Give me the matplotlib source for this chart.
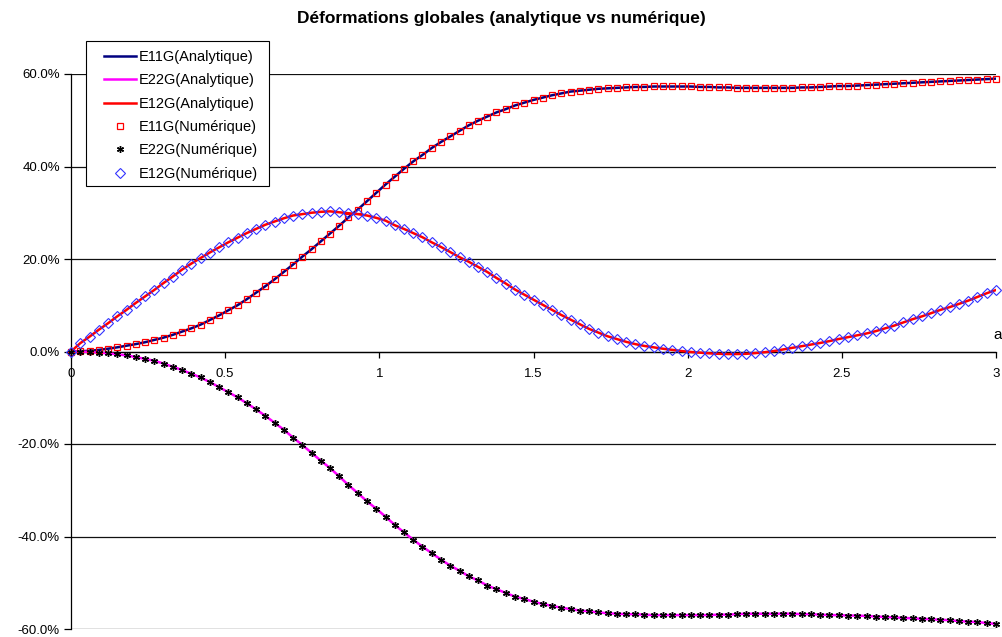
import numpy as np
import matplotlib.pyplot as plt
from matplotlib.patches import Rectangle

plt.rcParams['font.family'] = ['Liberation Sans', 'DejaVu Sans']

# abscissa step between samples (0 -> 3)
a_step = 0.03

# strains in %
e11 = [0.0, 0.05, 0.15, 0.35, 0.6, 0.9, 1.25, 1.6, 2.0, 2.5,
       3.0, 3.6, 4.3, 5.0, 5.8, 6.8, 7.8, 8.9, 10.0, 11.3,
       12.7, 14.1, 15.6, 17.2, 18.8, 20.5, 22.1, 23.8, 25.5, 27.2,
       29.0, 30.7, 32.5, 34.3, 36.1, 37.8, 39.5, 41.1, 42.5, 44.0,
       45.3, 46.5, 47.7, 48.9, 49.9, 50.8, 51.7, 52.4, 53.2, 53.8,
       54.4, 54.9, 55.4, 55.8, 56.2, 56.4, 56.6, 56.8, 56.9, 57.0,
       57.1, 57.2, 57.2, 57.3, 57.3, 57.3, 57.3, 57.3, 57.2, 57.2,
       57.1, 57.1, 57.0, 57.0, 57.0, 57.0, 57.0, 57.0, 57.0, 57.1,
       57.1, 57.2, 57.3, 57.4, 57.4, 57.5, 57.6, 57.7, 57.8, 57.9,
       58.0, 58.1, 58.2, 58.3, 58.4, 58.5, 58.6, 58.7, 58.8, 58.9,
       59.0]

e22 = [0.0, -0.03, -0.1, -0.25, -0.4, -0.6, -0.85, -1.2, -1.6, -2.0,
       -2.6, -3.3, -4.0, -4.8, -5.6, -6.6, -7.7, -8.8, -9.9, -11.2,
       -12.5, -13.9, -15.4, -16.9, -18.6, -20.2, -21.9, -23.6, -25.2, -27.0,
       -28.9, -30.6, -32.4, -34.0, -35.7, -37.5, -39.1, -40.7, -42.2, -43.6,
       -45.0, -46.3, -47.4, -48.6, -49.5, -50.6, -51.4, -52.2, -53.0, -53.5,
       -54.1, -54.6, -55.0, -55.4, -55.7, -56.0, -56.2, -56.4, -56.6, -56.7,
       -56.8, -56.8, -56.9, -57.0, -57.0, -57.0, -57.0, -57.0, -57.0, -57.0,
       -56.9, -56.9, -56.8, -56.7, -56.7, -56.7, -56.7, -56.7, -56.7, -56.8,
       -56.8, -56.9, -57.0, -57.0, -57.1, -57.1, -57.2, -57.3, -57.4, -57.5,
       -57.6, -57.7, -57.8, -57.9, -58.0, -58.1, -58.3, -58.4, -58.5, -58.7,
       -58.9]

e12 = [0.0, 1.8, 3.2, 4.7, 6.1, 7.6, 9.0, 10.5, 11.9, 13.3,
       14.8, 16.2, 17.7, 19.0, 20.2, 21.4, 22.5, 23.6, 24.6, 25.6,
       26.5, 27.4, 28.1, 28.8, 29.4, 29.7, 30.0, 30.2, 30.3, 30.1,
       29.9, 29.7, 29.4, 28.9, 28.3, 27.3, 26.5, 25.6, 24.7, 23.6,
       22.6, 21.5, 20.4, 19.4, 18.3, 17.2, 15.9, 14.7, 13.4, 12.3,
       11.2, 10.1, 9.0, 7.9, 6.9, 5.9, 4.9, 4.1, 3.3, 2.7,
       2.1, 1.6, 1.2, 0.9, 0.6, 0.35, 0.1, -0.1, -0.25, -0.4,
       -0.5, -0.55, -0.55, -0.5, -0.35, -0.15, 0.1, 0.45, 0.8, 1.15,
       1.5, 1.85, 2.25, 2.7, 3.1, 3.5, 3.9, 4.4, 5.0, 5.6,
       6.3, 7.0, 7.6, 8.3, 9.0, 9.6, 10.3, 11.0, 11.8, 12.6,
       13.3]

a_vals = np.arange(len(e11)) * a_step

x_ticks = [0, 0.5, 1, 1.5, 2, 2.5, 3]
x_labels = ['0', '0.5', '1', '1.5', '2', '2.5', '3']
y_ticks = [-60, -40, -20, 0, 20, 40, 60]

W, H = 1002, 637
fig = plt.figure(figsize=(W / 100, H / 100), dpi=100)
ax = fig.add_axes([71 / W, 8 / H, 925 / W, 555 / H])

# analytical curves
ax.plot(a_vals, e11, color='#000080', lw=1.8, label='E11G(Analytique)', zorder=3)
ax.plot(a_vals, e22, color='#FF00FF', lw=1.8, label='E22G(Analytique)', zorder=3)
ax.plot(a_vals, e12, color='#FF0000', lw=1.8, label='E12G(Analytique)', zorder=3)

# numerical points
ax.plot(a_vals, e11, ls='none', marker='s', mfc='none', mec='#FF0000', ms=5, mew=0.9,
        label='E11G(Numérique)', clip_on=False, zorder=4)
ax.plot(a_vals, e22, ls='none', marker=(6, 2, 0), color='black', ms=5, mew=1.0,
        label='E22G(Numérique)', clip_on=False, zorder=4)
ax.plot(a_vals, e12, ls='none', marker='D', mfc='none', mec='#3333FF', ms=4.6, mew=0.8,
        label='E12G(Numérique)', clip_on=False, zorder=4)

ax.set_xlim(0, 3)
ax.set_ylim(-60, 60)
ax.set_xticks(x_ticks)
ax.set_xticklabels(x_labels)
ax.set_yticks(y_ticks)
ax.set_yticklabels(['%.1f%%' % v for v in y_ticks])

ax.spines['top'].set_visible(False)
ax.spines['right'].set_visible(False)
ax.spines['bottom'].set_position(('data', 0))
ax.spines['bottom'].set_linewidth(0.9)
ax.spines['left'].set_linewidth(0.9)
ax.tick_params(axis='x', direction='out', length=4, width=0.9, pad=8, labelsize=9.5)
ax.tick_params(axis='y', direction='out', length=5, width=0.9, pad=3, labelsize=9.5)
ax.grid(axis='y', color='#111111', lw=0.9)
ax.set_axisbelow(True)

fig.text(0.5, 1 - 18 / H, 'Déformations globales (analytique vs numérique)',
         ha='center', va='center', fontsize=12.5, fontweight='bold')
fig.text(993 / W, 1 - 335 / H, 'a', ha='left', va='center', fontsize=11)

# legend box drawn separately so the padding matches
ax.add_patch(Rectangle((86 / W, 1 - 186 / H), 183 / W, 145 / H,
                       transform=fig.transFigure, facecolor='white',
                       edgecolor='black', lw=0.8, zorder=9, clip_on=False))
leg = ax.legend(loc='upper left', bbox_to_anchor=(104 / W, 1 - 50 / H),
                bbox_transform=fig.transFigure, frameon=False,
                fontsize=10.5, handlelength=2.2, numpoints=1,
                labelspacing=0.64, borderpad=0, handletextpad=0.2, borderaxespad=0)
leg.set_zorder(10)

fig.savefig('out.png', dpi=100)
